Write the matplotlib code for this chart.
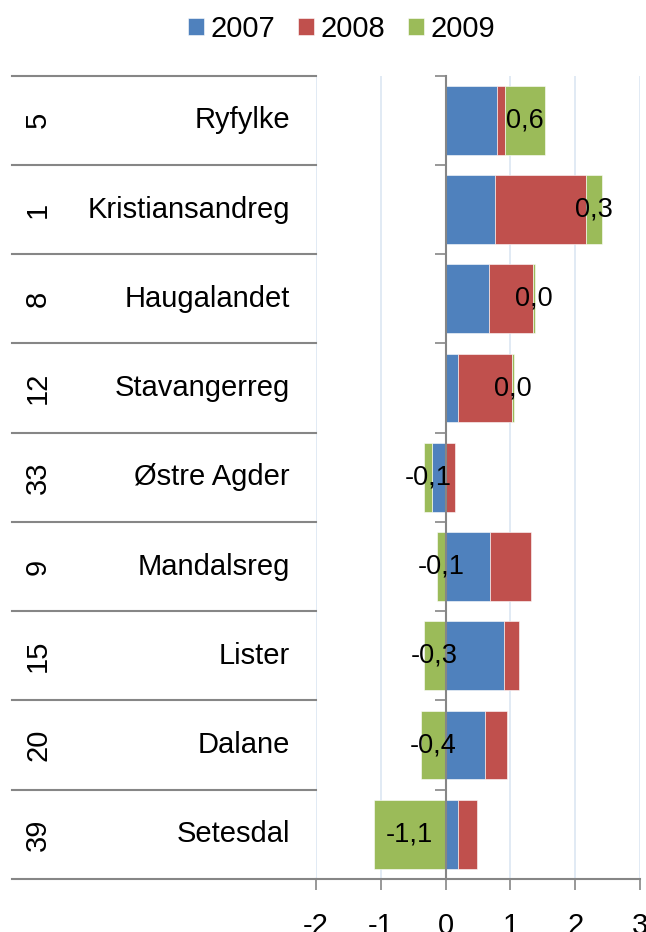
import matplotlib
matplotlib.use("Agg")
import matplotlib.pyplot as plt
import matplotlib.transforms as mtransforms
import numpy as np

plt.rcParams['font.family'] = ['Liberation Sans', 'DejaVu Sans']

# Data (top to bottom)
ranks = ['5', '1', '8', '12', '33', '9', '15', '20', '39']
regions = ['Ryfylke', 'Kristiansandreg', 'Haugalandet', 'Stavangerreg', 'Østre Agder',
           'Mandalsreg', 'Lister', 'Dalane', 'Setesdal']
years = ['2007', '2008', '2009']
v2007 = [0.80, 0.77, 0.67, 0.19, -0.21, 0.68, 0.90, 0.61, 0.19]
v2008 = [0.11, 1.39, 0.68, 0.83, 0.14, 0.64, 0.23, 0.34, 0.30]
v2009 = [0.62, 0.26, 0.03, 0.03, -0.13, -0.13, -0.34, -0.38, -1.11]
colors = ['#4F81BD', '#C0504D', '#9BBB59']
xticks = [-2, -1, 0, 1, 2, 3]

W, H = 646, 932
fig = plt.figure(figsize=(W / 100, H / 100), dpi=100)

# plot area in pixels
x0, x1 = 316, 640
ytop, ybot = 75.7, 879
ax = fig.add_axes([x0 / W, (H - ybot) / H, (x1 - x0) / W, (ybot - ytop) / H])

n = len(regions)
ypos = np.arange(n)
pos_left = np.zeros(n)
neg_left = np.zeros(n)
series = [v2007, v2008, v2009]
for vals, col, lab in zip(series, colors, years):
    vals = np.array(vals)
    left = np.where(vals >= 0, pos_left, neg_left)
    ax.barh(ypos, vals, left=left, height=0.77, color=col, label=lab,
            edgecolor='white', linewidth=0.4, zorder=3)
    if lab == '2009':
        for y, l, v in zip(ypos, left, vals):
            ax.text(l + v / 2, y, f'{v:.1f}'.replace('.', ','), ha='center', va='center',
                    fontsize=19.5, color='black', zorder=5)
    pos_left = pos_left + np.where(vals >= 0, vals, 0)
    neg_left = neg_left + np.where(vals < 0, vals, 0)

ax.set_xlim(-2, 3)
ax.set_ylim(n - 0.5, -0.5)
ax.set_xticks(xticks)
ax.set_xticklabels([str(t) for t in xticks])
ax.xaxis.grid(True, color='#DCE6F2', linewidth=1.2, zorder=0)
ax.tick_params(axis='x', length=8, width=1.2, color='#868686', labelsize=21, pad=16)

for s in ['top', 'right']:
    ax.spines[s].set_visible(False)
ax.spines['bottom'].set_color('#868686')
ax.spines['bottom'].set_linewidth(1.5)
ax.spines['left'].set_position(('data', 0))
ax.spines['left'].set_color('#868686')
ax.spines['left'].set_linewidth(1.5)
ax.spines['left'].set_zorder(4)
ax.set_yticks(np.arange(-0.5, n, 1.0))
ax.set_yticklabels([])
ax.tick_params(axis='y', length=8, width=1.2, color='#868686', direction='out')

# category table on the left
trans = mtransforms.blended_transform_factory(ax.transAxes, ax.transData)
left_edge = (12 - x0) / (x1 - x0)
for b in np.arange(-0.5, n, 1.0):
    ax.plot([left_edge, 0], [b, b], transform=trans, color='#868686',
            linewidth=1.5, clip_on=False, zorder=2)
rank_x = (38 - x0) / (x1 - x0)
name_x = (290 - x0) / (x1 - x0)
for y, r, name in zip(ypos, ranks, regions):
    ax.text(rank_x, y, r, transform=trans, rotation=90, ha='center', va='center',
            fontsize=21, clip_on=False)
    ax.text(name_x, y, name, transform=trans, ha='right', va='center',
            fontsize=21, clip_on=False)

# legend at top
handles, labels = ax.get_legend_handles_labels()
fig.legend(handles, labels, loc='center', bbox_to_anchor=(341.5 / W, 1 - 29 / H),
           ncol=3, frameon=False, fontsize=21, handlelength=0.55, handleheight=0.55,
           handletextpad=0.2, columnspacing=0.8, borderaxespad=0)

fig.savefig('out.png', dpi=100, facecolor='white')
